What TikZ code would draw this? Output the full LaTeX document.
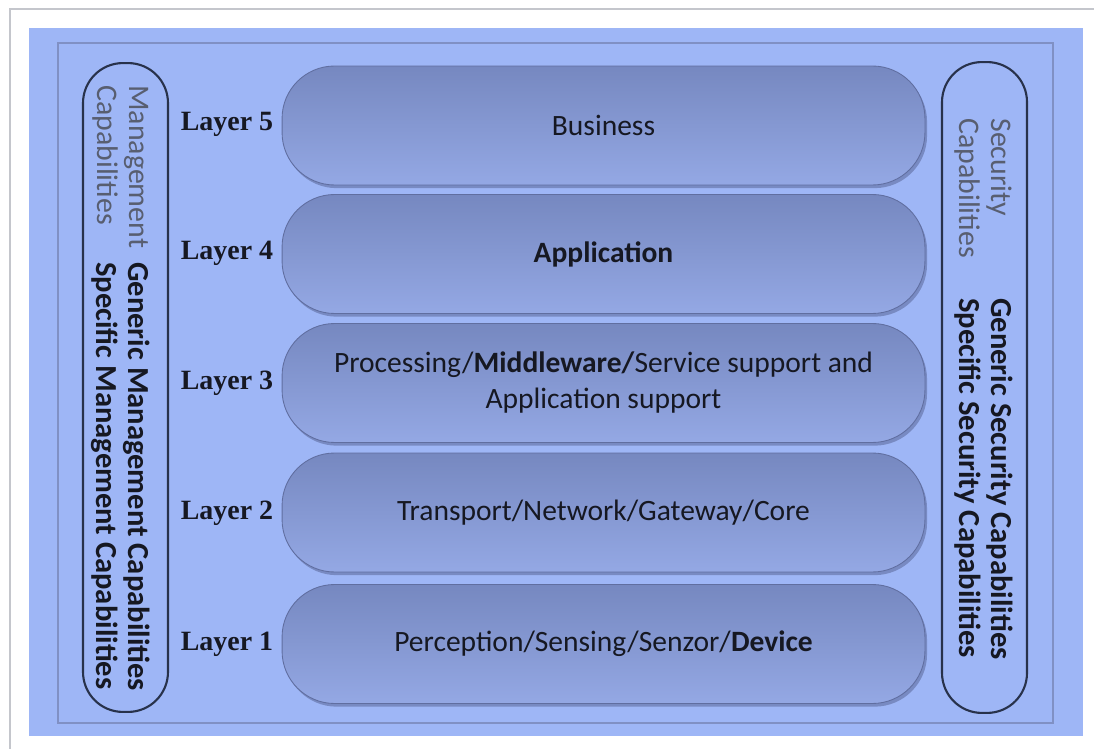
\documentclass[tikz,border=0pt]{standalone}
\usepackage{fontspec}
\setmainfont{Carlito}
\newfontfamily\layerfont{Liberation Serif}
\usepackage{tikz}
\usetikzlibrary{shadows}

\definecolor{panelblue}{RGB}{158,182,246}
\definecolor{framegray}{RGB}{196,198,204}
\definecolor{innerline}{RGB}{128,144,196}
\definecolor{pilltop}{RGB}{118,136,192}
\definecolor{pillbottom}{RGB}{148,168,228}
\definecolor{pillline}{RGB}{96,110,160}
\definecolor{capsline}{RGB}{40,50,75}
\definecolor{softtext}{RGB}{88,94,112}
\definecolor{darktext}{RGB}{22,24,34}

\begin{document}
\begin{tikzpicture}[x=0.02cm, y=-0.02cm,
  pill/.style={draw=pillline, line width=0.5pt, top color=pilltop, bottom color=pillbottom,
    rounded corners=1.05cm, minimum width=12.86cm, minimum height=2.38cm,
    text=darktext, align=center, font=\fontsize{16.8pt}{20.5pt}\selectfont,
    drop shadow={shadow xshift=1.2pt, shadow yshift=-1.8pt, fill=pillline, opacity=0.6}},
  layerlabel/.style={text=darktext, font=\layerfont\bfseries\fontsize{15.9pt}{18pt}\selectfont},
  capsule/.style={draw=capsline, line width=1.2pt, rounded corners=0.8cm, minimum width=1.7cm},
  captext/.style={rotate=-90, anchor=west, inner sep=0pt, align=left, font=\fontsize{17pt}{18.1pt}\selectfont}]

% page and panels
\useasboundingbox (0,0) rectangle (1094,749);
\fill[white] (0,0) rectangle (1094,749);
\draw[framegray, line width=1pt] (10,749) |- (1094,9);
\fill[panelblue] (29,28) rectangle (1083,736);
\draw[innerline, line width=0.6pt] (58,43) rectangle (1053,723);

% side capabilities
\node[capsule, minimum height=12.98cm] (management) at (125.5,387.5) {};
\node[capsule, minimum height=13.02cm] (security) at (984.5,387.5) {};

\node[captext, text=softtext] (management title) at (121,85) {Management\\Capabilities};
\node[captext, text=darktext, font=\bfseries\fontsize{17.4pt}{18.1pt}\selectfont] (management kinds) at (121,262) {Generic Management Capabilities\\Specific Management Capabilities};

\node[captext, text=softtext] (security title) at (983.5,118) {Security\\Capabilities};
\node[captext, text=darktext, font=\bfseries\fontsize{17.4pt}{18.1pt}\selectfont] (security kinds) at (983.5,298) {Generic Security Capabilities\\Specific Security Capabilities};

% layers
\node[pill] (business) at (603.5,125.5) {Business};
\node[layerlabel] (layer five) at (227,124) {Layer 5};

\node[pill] (application) at (603.5,254) {\textbf{Application}};
\node[layerlabel] (layer four) at (227,253) {Layer 4};

\node[pill] (middleware) at (603.5,383) {Processing/\textbf{Middleware/}Service support and\\Application support};
\node[layerlabel] (layer three) at (227,383) {Layer 3};

\node[pill] (network) at (603.5,512.5) {Transport/Network/Gateway/Core};
\node[layerlabel] (layer two) at (227,513) {Layer 2};

\node[pill] (device) at (603.5,644) {Perception/Sensing/Senzor/\textbf{Device}};
\node[layerlabel] (layer one) at (227,644) {Layer 1};
\end{tikzpicture}
\end{document}
